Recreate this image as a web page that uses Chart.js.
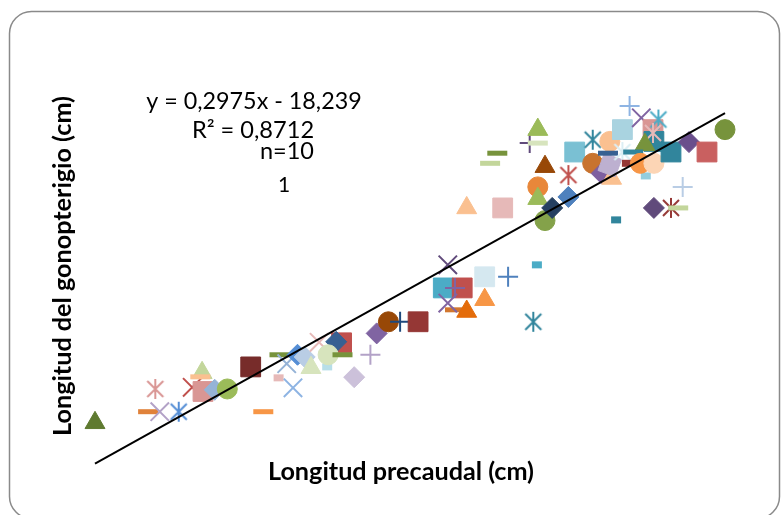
<!DOCTYPE html>
<html>
<head>
<meta charset="utf-8">
<script src="https://cdn.jsdelivr.net/npm/chart.js@4"></script>
<style>
  html, body { margin: 0; padding: 0; background: #fff; }
  #wrap { position: relative; width: 781px; height: 515px; }
</style>
</head>
<body>
<div id="wrap"><canvas id="grafico" width="781" height="515"></canvas></div>
<script>
// Longitud precaudal vs longitud del gonopterigio (cm)
const precaudal = [
  80.0, 85.9, 86.7, 87.2, 89.3, 90.8, 92.0, 93.3, 91.9, 91.7, 94.7, 98.7, 97.3,
  100.5, 100.4, 101.3, 102.0, 102.5, 103.3, 104.0, 104.9, 107.4, 106.8, 105.8, 105.9,
  107.5, 108.8, 110.6, 111.3,
  112.6, 113.9, 115.9, 120.0, 121.3, 118.7, 120.8, 120.0, 119.2, 123.3, 119.2, 123.3,
  125.9, 129.1, 128.7,
  121.3, 125.3, 124.7, 123.9, 128.3, 129.2, 129.2, 130.0, 129.2, 129.2, 130.0, 130.8,
  132.6, 132.6, 133.3, 135.3, 137.2, 135.3, 136.3, 137.4, 137.2, 137.0, 138.6, 139.4,
  140.7, 142.0, 142.1, 142.6, 142.0, 141.1, 138.6, 139.8, 139.1, 141.2, 140.6, 142.1,
  144.0, 146.0, 148.0, 150.0, 145.3, 142.1, 144.0, 144.8, 137.9
];
const gonopterigio = [
  7.99, 8.65, 10.0, 8.65, 8.65, 10.1, 9.85, 9.95, 10.96, 10.72, 10.0, 8.65, 11.31,
  12.03, 10.66, 11.5, 10.07, 12.03, 11.9, 11.26, 12.77, 12.74, 12.8, 11.31, 12.03,
  12.03, 10.7, 12.03, 13.3,
  13.99, 13.99, 13.99, 14.7, 14.6, 16.0, 16.0, 16.0, 15.1, 15.3, 17.37, 16.66,
  16.66, 17.37, 13.99,
  20.75, 20.75, 24.0, 23.4, 24.6, 25.4, 24.6, 23.2, 22.0, 21.3, 20.0, 20.75,
  21.4, 22.7, 24.07, 24.8, 24.7, 23.4, 22.8, 22.5, 23.3, 24.0, 25.4, 26.8,
  26.1, 25.4, 24.7, 26.0, 25.2, 24.5, 24.07, 24.07, 23.4, 22.65, 23.4, 23.4,
  24.07, 24.66, 24.07, 25.4, 22.0, 20.75, 20.75, 20.75, 20.04
];
// marcador:color de cada punto
const estilo = [
  'tri:#5F7A30', 'dash:#E0823A', 'ast:#D99694', 'x:#B3A2C7', 'ast:#558ED5', 'x:#C0504D',
  'sq:#D99694', 'di:#95B3D7', 'tri:#C3D69B', 'dash:#FAC090', 'ci:#9BBB59', 'dash:#F79646',
  'sq:#772C2A', 'dash:#77933C', 'sm:#E6B9B8', 'x:#95B3D7', 'x:#8EB4E3', 'di:#558ED5',
  'di:#B9CDE5', 'tri:#D7E4BD', 'x:#E6B9B8', 'sq:#C0504D', 'di:#376092', 'sm:#B7DEE8',
  'ci:#D7E4BD', 'dash:#77933C', 'di:#CCC1DA', 'plus:#B3A2C7', 'di:#8064A2',
  'ci:#984807', 'plus:#1F497D', 'sq:#953735', 'dash:#D2772F', 'tri:#E46C0A', 'sq:#4BACC6',
  'sq:#C0504D', 'plus:#8064A2', 'x:#8064A2', 'tri:#F79646', 'x:#604A7B', 'sq:#D5E8F0',
  'plus:#4F81BD', 'sm:#4BACC6', 'ast:#31859C',
  'tri:#FAC090', 'sq:#E6B9B8', 'dash:#77933C', 'dash:#C3D69B', 'plus:#604A7B', 'tri:#9BBB59',
  'dash:#D7E4BD', 'tri:#984807', 'ci:#E8873A', 'tri:#9BBB59', 'ci:#84A24A', 'di:#254061',
  'di:#4F81BD', 'ast:#C0504D', 'sq:#7AC0D3', 'ast:#31859C', 'ci:#FAC090', 'ci:#C8732F',
  'di:#7E5FA0', 'tri:#FAC090', 'sqr:#BDB0D0', 'dash:#376092', 'sq:#A9D3E0', 'plus:#8EB4E3',
  'x:#8064A2', 'sq:#D99694', 'sq:#31859C', 'ast:#4BACC6', 'ast:#E6B9B8', 'tri:#77933C',
  'ast:#DBEEF4', 'dash:#31859C', 'sm:#953735', 'sm:#93CDDD', 'ci:#F79646', 'ci:#FCD5B5',
  'sq:#31859C', 'di:#6A4F8C', 'sq:#C96060', 'ci:#77933C', 'plus:#B9CDE5', 'di:#604A7B',
  'ast:#953735', 'dash:#C3D69B', 'sm:#31859C'
];

// linea de tendencia
const pendiente = 0.2975;
const intercepto = -18.239;
const tendenciaX = [80, 150];

const textoEcuacion = 'y = 0,2975x - 18,239';
const textoR2 = 'R² = 0,8712';
const textoN = 'n=10';
const textoUno = '1';

function asterisco(color) {
  const c = document.createElement('canvas');
  c.width = 22; c.height = 22;
  const g = c.getContext('2d');
  g.strokeStyle = color;
  g.lineWidth = 2;
  g.beginPath();
  g.moveTo(3, 3); g.lineTo(19, 19);
  g.moveTo(19, 3); g.lineTo(3, 19);
  g.moveTo(11, 1); g.lineTo(11, 21);
  g.stroke();
  return c;
}

const forma = { tri: 'triangle', sq: 'rect', sqr: 'rect', ci: 'circle', di: 'rectRot', x: 'crossRot', plus: 'cross', dash: 'line', sm: 'line' };
const radio = { tri: 11.5, sq: 14, sqr: 13, ci: 10, di: 10.5, x: 13, plus: 10, dash: 10, sm: 5, ast: 11 };
const grosor = { tri: 1, sq: 1, sqr: 1, ci: 1, di: 1, x: 2, plus: 2, dash: 5, sm: 7, ast: 1 };

const tipos = estilo.map(s => s.split(':')[0]);
const colores = estilo.map(s => s.split(':')[1]);

const puntos = precaudal.map((x, i) => ({ x: x, y: gonopterigio[i] }));

const textos = {
  id: 'textos',
  beforeDraw(chart) {
    const ctx = chart.ctx;
    ctx.save();
    ctx.fillStyle = '#fff';
    ctx.fillRect(0, 0, chart.width, chart.height);
    ctx.strokeStyle = '#8a8a8a';
    ctx.lineWidth = 1.5;
    ctx.beginPath();
    ctx.roundRect(9.5, 11.5, 770, 507, 22);
    ctx.stroke();
    ctx.restore();
  },
  afterDraw(chart) {
    const ctx = chart.ctx;
    const fam = 'Lato, "Open Sans", sans-serif';
    function ajustado(txt, peso, ancho, x, y, rot) {
      ctx.save();
      ctx.font = peso + ' 20px ' + fam;
      const t = 20 * ancho / ctx.measureText(txt).width;
      ctx.font = peso + ' ' + t.toFixed(1) + 'px ' + fam;
      ctx.fillStyle = '#000';
      ctx.textAlign = 'center';
      ctx.textBaseline = 'middle';
      ctx.translate(x, y);
      if (rot) ctx.rotate(-Math.PI / 2);
      ctx.fillText(txt, 0, 0);
      ctx.restore();
    }
    ajustado(textoEcuacion, 'normal', 215, 254, 101);
    ajustado(textoR2, 'normal', 122, 253, 130);
    ajustado(textoN, 'normal', 54, 287, 151);
    ctx.save();
    ctx.font = 'normal 21px ' + fam;
    ctx.fillStyle = '#000';
    ctx.textAlign = 'center';
    ctx.textBaseline = 'middle';
    ctx.fillText(textoUno, 284, 185);
    ctx.restore();
    ajustado('Longitud precaudal (cm)', 'bold', 266, 401, 472);
    ajustado('Longitud del gonopterigio (cm)', 'bold', 340, 63, 266, true);
  }
};

new Chart(document.getElementById('grafico'), {
  type: 'scatter',
  data: {
    datasets: [
      {
        type: 'line',
        data: tendenciaX.map(x => ({ x: x, y: pendiente * x + intercepto })),
        borderColor: '#000',
        borderWidth: 2,
        pointRadius: 0,
        fill: false,
        clip: false
      },
      {
        data: puntos,
        pointStyle: tipos.map((t, i) => t === 'ast' ? asterisco(colores[i]) : forma[t]),
        pointRadius: tipos.map(t => radio[t]),
        pointBackgroundColor: colores,
        pointBorderColor: colores,
        pointBorderWidth: tipos.map(t => grosor[t]),
        pointRotation: tipos.map(t => t === 'sqr' ? 20 : 0),
        clip: false
      }
    ]
  },
  options: {
    responsive: false,
    animation: false,
    devicePixelRatio: 1,
    layout: { padding: { left: 77, right: 38, top: 69, bottom: 25 } },
    plugins: { legend: { display: false }, tooltip: { enabled: false } },
    scales: {
      x: { type: 'linear', min: 78, max: 152, display: false },
      y: { type: 'linear', min: 4, max: 29, display: false }
    }
  },
  plugins: [textos]
});
</script>
</body>
</html>
